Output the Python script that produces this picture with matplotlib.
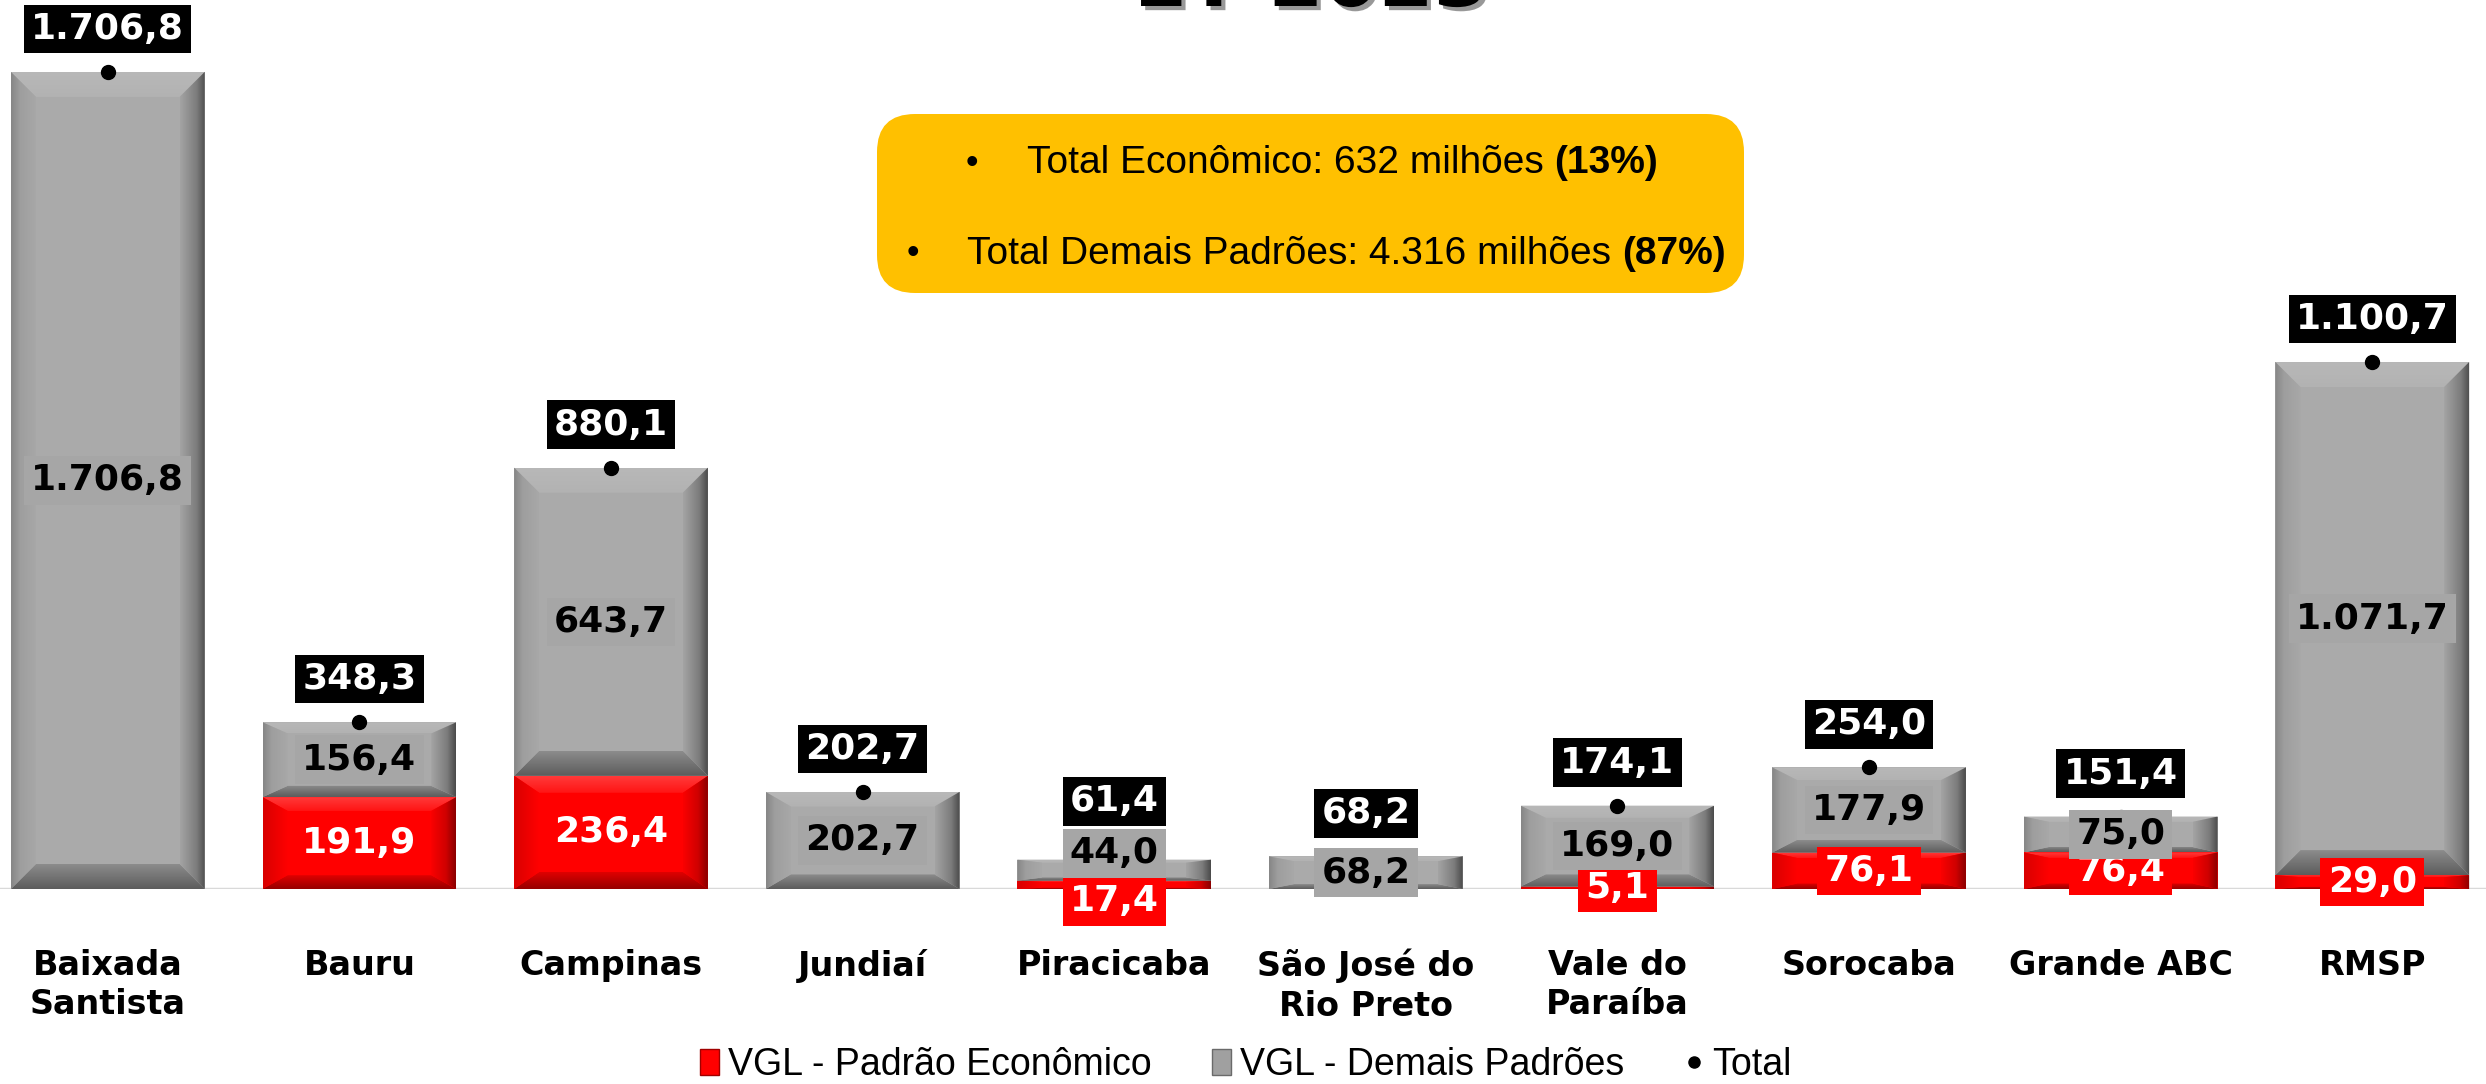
import numpy as np
import matplotlib
matplotlib.use('Agg')
import matplotlib.pyplot as plt
import matplotlib.patheffects as pe
from matplotlib.colors import LinearSegmentedColormap
from matplotlib.patches import Polygon, Patch, FancyBboxPatch
from matplotlib.lines import Line2D

# dados (R$ milhões)
regioes = ['Baixada\nSantista', 'Bauru', 'Campinas', 'Jundiaí', 'Piracicaba',
           'São José do\nRio Preto', 'Vale do\nParaíba', 'Sorocaba', 'Grande ABC', 'RMSP']
economico = [0.0, 191.9, 236.4, 0.0, 17.4, 0.0, 5.1, 76.1, 76.4, 29.0]
demais = [1706.8, 156.4, 643.7, 202.7, 44.0, 68.2, 169.0, 177.9, 75.0, 1071.7]
series = ['VGL - Padrão Econômico', 'VGL - Demais Padrões', 'Total']
titulo = '1T 2023'
destaques = [('Total Econômico: 632 milhões ', '(13%)'),
             ('Total Demais Padrões: 4.316 milhões ', '(87%)')]

NARROW = ['Liberation Sans', 'DejaVu Sans']

W, H = 2486, 1084
fig = plt.figure(figsize=(W / 100, H / 100), dpi=100)
base_px = 195
ax = fig.add_axes([0, base_px / H, 1, 1 - base_px / H])
XLIM = (-0.4285, 9.452)
YMAX = 1857
ax.set_xlim(*XLIM)
ax.set_ylim(0, YMAX)
px_x = W / (XLIM[1] - XLIM[0])
px_y = (H - base_px) / YMAX

x = np.arange(len(regioes))
eco = np.array(economico)
dem = np.array(demais)
tot = eco + dem


def fmt(v):
    s = f'{v:,.1f}'
    return s.replace(',', '#').replace('.', ',').replace('#', '.')


def cmap(stops):
    return LinearSegmentedColormap.from_list('c', stops)


GRAY = {
    'main': '#aaaaaa',
    'top': cmap([(0, '#b8b8b8'), (1, '#b2b2b2')]),
    'left': cmap([(0, '#868686'), (0.35, '#9e9e9e'), (1, '#a8a8a8')]),
    'right': cmap([(0, '#4a4a4a'), (0.35, '#7c7c7c'), (1, '#a4a4a4')]),
    'bottom': cmap([(0, '#5c5c5c'), (1, '#8c8c8c')]),
}
RED = {
    'main': '#ff0000',
    'top': cmap([(0, '#ff3a3a'), (1, '#ff1414')]),
    'left': cmap([(0, '#d80000'), (1, '#ff0000')]),
    'right': cmap([(0, '#8a0000'), (0.4, '#d00000'), (1, '#fa0000')]),
    'bottom': cmap([(0, '#960000'), (1, '#e00000')]),
}


def bevel(bar, sty):
    x0, y0 = bar.get_x(), bar.get_y()
    w, h = bar.get_width(), bar.get_height()
    if h <= 0:
        return
    x1, y1 = x0 + w, y0 + h
    bx = 25 / px_x
    by = min(25 / px_y, 0.15 * h)
    g = np.linspace(0, 1, 128)
    sides = {
        'top': ([(x0, y1), (x1, y1), (x1 - bx, y1 - by), (x0 + bx, y1 - by)],
                g[::-1].reshape(-1, 1), (x0, x1, y1 - by, y1)),
        'bottom': ([(x0, y0), (x1, y0), (x1 - bx, y0 + by), (x0 + bx, y0 + by)],
                   g.reshape(-1, 1), (x0, x1, y0, y0 + by)),
        'left': ([(x0, y0), (x0 + bx, y0 + by), (x0 + bx, y1 - by), (x0, y1)],
                 g.reshape(1, -1), (x0, x0 + bx, y0, y1)),
        'right': ([(x1, y0), (x1 - bx, y0 + by), (x1 - bx, y1 - by), (x1, y1)],
                  g[::-1].reshape(1, -1), (x1 - bx, x1, y0, y1)),
    }
    for side, (pts, img, ext) in sides.items():
        im = ax.imshow(img, cmap=sty[side], extent=ext, origin='lower', aspect='auto',
                       interpolation='bilinear', vmin=0, vmax=1, zorder=2.2)
        poly = Polygon(pts, closed=True, transform=ax.transData, fc='none', ec='none')
        im.set_clip_path(poly)


ax.axhline(0, color='#d9d9d9', lw=2.5, zorder=1)
b_eco = ax.bar(x, eco, width=0.77, color=RED['main'], zorder=2)
b_dem = ax.bar(x, dem, width=0.77, bottom=eco, color=GRAY['main'], zorder=2)
for bar in b_eco:
    bevel(bar, RED)
for bar in b_dem:
    bevel(bar, GRAY)

ax.plot(x, tot, 'o', color='black', ms=10, zorder=4)

# rótulos
lab = dict(ha='center', va='center', fontsize=26, fontweight='bold')
for i in x:
    yr = eco[i] / 2
    yg = eco[i] + dem[i] / 2
    if eco[i] > 0 and (yg - yr) * px_y < 30:
        mid = (yr + yg) / 2
        yr, yg = mid - 24 / px_y, mid + 24 / px_y
    yt = max(tot[i] + 43 / px_y, yg + 52 / px_y)
    if eco[i] > 0:
        ax.text(i, yr, fmt(eco[i]), color='white', zorder=5,
                bbox=dict(boxstyle='square,pad=0.2', fc='#ff0000', ec='none'), **lab)
    ax.text(i, yg, fmt(dem[i]), color='black', zorder=5,
            bbox=dict(boxstyle='square,pad=0.2', fc='#a6a6a6', ec='none'), **lab)
    ax.text(i, yt, fmt(tot[i]), color='white', zorder=6,
            bbox=dict(boxstyle='square,pad=0.2', fc='black', ec='none'), **lab)

ax.set_xticks(x, regioes, fontsize=24, fontweight='bold', linespacing=1.25)
ax.tick_params(axis='x', length=0, pad=43)
ax.set_yticks([])
for s in ax.spines.values():
    s.set_visible(False)

# título (cortado no topo)
fig.text(1310 / W, 1 - 6 / H, titulo, ha='center', va='baseline', fontsize=57,
         fontweight='bold',
         path_effects=[pe.withSimplePatchShadow(offset=(3, -3), shadow_rgbFace='#7f7f7f', alpha=0.8)])

# caixa de destaque
box = FancyBboxPatch((8.77, (H - 293) / 100), 8.67, 1.79,
                     boxstyle='round,pad=0,rounding_size=0.38',
                     transform=fig.dpi_scale_trans, fc='#ffc000', ec='none')
fig.add_artist(box)
for (txt, pct), bx, tx, ty in zip(destaques, [972, 913], [1027, 967], [163, 254]):
    fig.text(bx / W, 1 - ty / H, '•', ha='center', va='center', fontsize=26, family=NARROW)
    t = fig.text(tx / W, 1 - ty / H, txt, ha='left', va='center', fontsize=28, family=NARROW)
    fig.add_artist(plt.Annotation(pct, xy=(1, 0.5), xycoords=t, ha='left', va='center',
                                  fontsize=28, fontweight='bold', family=NARROW))

# legenda
handles = [Patch(fc='#ff0000', ec='#a00000'),
           Patch(fc='#a0a0a0', ec='#6a6a6a'),
           Line2D([], [], ls='none', marker='o', color='black', ms=8)]
fig.legend(handles, series, loc='center', bbox_to_anchor=(1246 / W, 1 - 1065 / H), ncol=3,
           frameon=False, prop=dict(family=NARROW, size=27), handlelength=0.5,
           handletextpad=0.25, columnspacing=1.6, borderpad=0)

fig.savefig('out.png', dpi=100)
